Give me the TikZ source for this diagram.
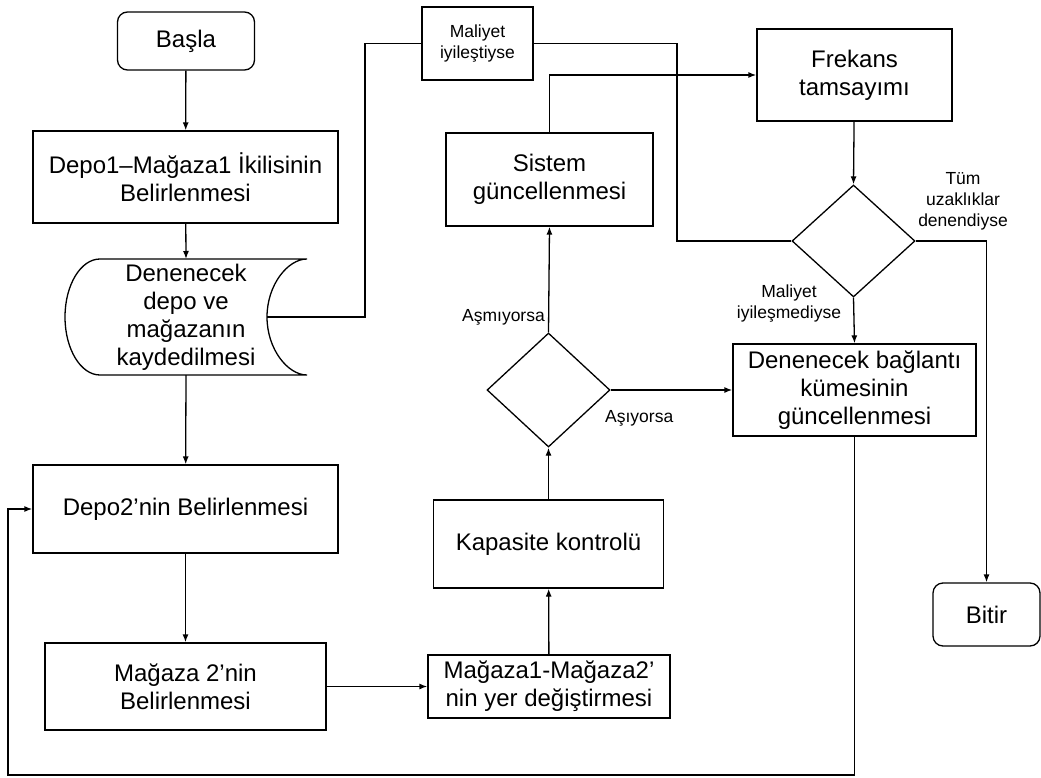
\documentclass[tikz,border=0pt]{standalone}
\usepackage{fontspec}
\setmainfont{Liberation Sans}
\usetikzlibrary{shapes.geometric,arrows.meta}
\begin{document}
\begin{tikzpicture}[x=1pt,y=-1pt,
  every node/.style={font=\fontsize{24}{28}\selectfont, text=black, align=center, inner sep=0pt},
  proc/.style={draw, line width=1.3pt, rectangle},
  term/.style={draw, line width=1.3pt, rectangle, rounded corners=10pt},
  dec/.style={draw, line width=1.3pt, diamond, minimum width=123pt, minimum height=112pt},
  lbl/.style={font=\fontsize{17.5}{21}\selectfont},
  conn/.style={line width=1.3pt, draw=black},
  arr/.style={conn, -{Latex[length=8pt,width=6pt]}}
]
\path[use as bounding box] (0,0) rectangle (1041,778);

% nodes
\node[term, minimum width=137pt, minimum height=58pt] (start) at (186,41) {Başla};
\node[proc, minimum width=305pt, minimum height=92pt] (d1) at (185.5,177) {Depo1–Mağaza1 İkilisinin\\Belirlenmesi};
\node (store) at (186,317) {Denenecek\\depo ve\\mağazanın\\kaydedilmesi};
\coordinate (storeN) at (186,259);
\coordinate (storeS) at (186,375);
\coordinate (storeE) at (267,317);
\draw[line width=1.3pt] (100,259) -- (307,259)
  .. controls (287.7,259) and (267,285) .. (267,317)
  .. controls (267,349) and (287.7,375) .. (307,375)
  -- (100,375)
  .. controls (80.7,375) and (65,349) .. (65,317)
  .. controls (65,285) and (80.7,259) .. (100,259) -- cycle;
\node[proc, minimum width=305pt, minimum height=88pt] (d2) at (185.5,509) {Depo2’nin Belirlenmesi};
\node[proc, minimum width=281pt, minimum height=87pt] (m2) at (185.5,686.5) {Mağaza 2’nin\\Belirlenmesi};
\node[proc, minimum width=242pt, minimum height=63pt] (swap) at (549,686.5) {Mağaza1-Mağaza2’\\nin yer değiştirmesi};
\node[proc, minimum width=230pt, minimum height=88pt] (cap) at (548.5,544) {Kapasite kontrolü};
\node[dec, minimum width=123pt, minimum height=114pt] (dec2) at (548.5,390) {};
\node[proc, minimum width=207pt, minimum height=93pt] (sys) at (549.5,179.5) {Sistem\\güncellenmesi};
\node[proc, minimum width=195pt, minimum height=92pt] (freq) at (854.5,75) {Frekans\\tamsayımı};
\node[dec] (dec1) at (853.5,241) {};
\node[proc, minimum width=243pt, minimum height=92pt] (upd) at (854.5,390) {Denenecek bağlantı\\kümesinin\\güncellenmesi};
\node[term, minimum width=107pt, minimum height=63pt] (end) at (986.5,614.5) {Bitir};
\node[proc, lbl, minimum width=111pt, minimum height=73pt] (imp) at (477.5,43.5) {Maliyet\\iyileştiyse};

% labels
\node[lbl, anchor=east] (lasm) at (545,317) {Aşmıyorsa};
\node[lbl, anchor=west] (las) at (605,418) {Aşıyorsa};
\node[lbl] (lnot) at (789,304) {Maliyet\\iyileşmediyse};
\node[lbl] (lall) at (963,201) {Tüm\\uzaklıklar\\denendiyse};

% connectors
\draw[arr] (start) -- (d1);
\draw[arr] (d1) -- (storeN);
\draw[arr] (storeS) -- (d2);
\draw[arr] (d2) -- (m2);
\draw[arr] (m2.east) -- (swap.west);
\draw[arr] (swap) -- (cap);
\draw[arr] (cap) -- (dec2.south);
\draw[arr] (dec2.north) -- (sys.south);
\draw[arr] (dec2.east) -- (upd.west);
\draw[arr] (sys.north) |- (freq.west);
\draw[arr] (freq) -- (dec1.north);
\draw[arr] (dec1.south) -- (upd.north);
\draw[arr] (dec1.east) -| (end.north);
\draw[conn] (dec1.west) -- (677,241) |- (imp.east);
\draw[conn] (imp.west) -- (365,43.5) |- (storeE);
\draw[arr] (upd.south) -- (854.5,775) -| (8,509) -- (d2.west);
\end{tikzpicture}
\end{document}
